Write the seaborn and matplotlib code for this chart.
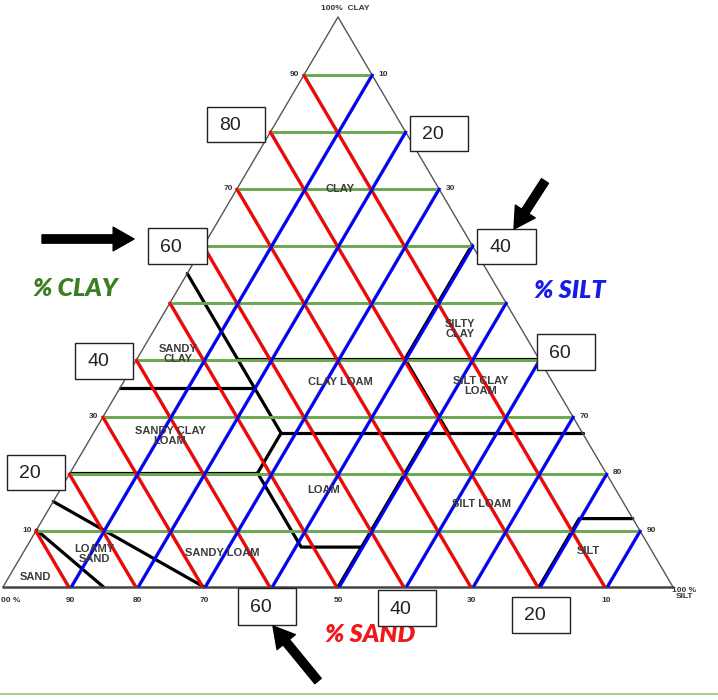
import numpy as np
import pandas as pd
import matplotlib
matplotlib.use("Agg")
import matplotlib.pyplot as plt
import matplotlib.transforms as mtransforms
from matplotlib.patches import Rectangle, FancyArrowPatch
import seaborn as sns

# ---------------- data ----------------
grid_levels = [10, 20, 30, 40, 50, 60, 70, 80, 90]

# USDA texture class boundaries, each a polyline of (sand, silt, clay) %
usda_boundaries = [
    [(85, 15, 0), (90, 0, 10)],
    [(70, 30, 0), (85, 0, 15)],
    [(80, 0, 20), (52, 28, 20)],
    [(52, 28, 20), (52, 41, 7), (43, 50, 7), (50, 50, 0)],
    [(52, 28, 20), (45, 28, 27)],
    [(65, 0, 35), (45, 20, 35)],
    [(45, 0, 55), (45, 28, 27)],
    [(45, 28, 27), (0, 73, 27)],
    [(45, 15, 40), (0, 60, 40)],
    [(20, 40, 40), (0, 40, 60)],
    [(20, 40, 40), (20, 53, 27)],
    [(23, 50, 27), (43, 50, 7)],
    [(20, 80, 0), (8, 80, 12), (0, 88, 12)],
]

clay_tick_values = [90, 70, 30, 10]          # left edge labels
silt_tick_values = [10, 30, 70, 80, 90]      # right edge labels
sand_tick_values = [90, 80, 70, 50, 30, 10]  # bottom labels

class_names = ["CLAY", "SILTY\nCLAY", "SANDY\nCLAY", "CLAY LOAM", "SILT CLAY\nLOAM",
               "SANDY CLAY\nLOAM", "LOAM", "SILT LOAM", "LOAMY\nSAND", "SANDY LOAM",
               "SILT", "SAND"]
class_pos = [(340, 189), (460, 329), (178, 354), (340, 382), (481, 386),
             (170, 436), (324, 490), (482, 504), (94, 554), (222, 553),
             (588, 551), (35, 577)]

box_values = ["80", "20", "60", "40", "40", "60", "20", "60", "40", "20"]
box_rects = [(207, 107, 58, 35), (410, 116, 58, 35), (148, 228, 59, 36),
             (477, 229, 59, 35), (75, 343, 58, 36), (537, 334, 58, 36),
             (7, 455, 58, 35), (238, 588, 58, 37), (378, 590, 58, 36),
             (512, 597, 58, 36)]

# ---------------- geometry ----------------
X0, SX, Y0, SY = 3.0, 6.7, 587.0, 5.7


def tern(sand, silt, clay):
    return X0 + (silt + clay / 2.0) * SX, Y0 - clay * SY


# ---------------- figure ----------------
sns.set_theme(style="white")
plt.rcParams["font.family"] = ["Liberation Sans", "DejaVu Sans"]

fig = plt.figure(figsize=(7.18, 7.00), dpi=100)
ax = fig.add_axes([0, 0, 1, 1])
ax.set_xlim(0, 718)
ax.set_ylim(700, 0)
ax.axis("off")

# grid table
rows = []
seg = 0
for v in grid_levels:
    for kind, a, b in [("clay", (100 - v, 0, v), (0, 100 - v, v)),
                       ("sand", (v, 100 - v, 0), (v, 0, 100 - v)),
                       ("silt", (100 - v, v, 0), (0, v, 100 - v))]:
        for p in (a, b):
            x, y = tern(*p)
            rows.append(dict(seg=seg, kind=kind, x=x, y=y))
        seg += 1
grid = pd.DataFrame(rows)

# underlying gray grid of the printed chart
sns.lineplot(data=grid[grid.kind != "clay"], x="x", y="y", units="seg", estimator=None,
             sort=False, color="#6b6b6b", lw=1.0, ax=ax, legend=False)

# black class boundaries
brows = []
for i, line in enumerate(usda_boundaries):
    for p in line:
        x, y = tern(*p)
        brows.append(dict(seg=i, x=x, y=y))
bdf = pd.DataFrame(brows)
sns.lineplot(data=bdf, x="x", y="y", units="seg", estimator=None, sort=False,
             color="black", lw=2.3, ax=ax, legend=False)

# triangle outline
outline = pd.DataFrame([dict(seg=0, x=tern(100, 0, 0)[0], y=tern(100, 0, 0)[1]),
                        dict(seg=0, x=tern(0, 0, 100)[0], y=tern(0, 0, 100)[1]),
                        dict(seg=0, x=tern(0, 100, 0)[0], y=tern(0, 100, 0)[1])])
sns.lineplot(data=outline, x="x", y="y", units="seg", estimator=None, sort=False,
             color="#555555", lw=1.0, ax=ax, legend=False)
bx = [tern(100, 0, 0), tern(0, 100, 0)]
sns.lineplot(x=[bx[0][0], bx[1][0]], y=[bx[0][1], bx[1][1]], color="#444444", lw=1.8,
             ax=ax, legend=False, sort=False)

# coloured overlay lines (hand-drawn, slightly offset)
colors = {"clay": "#6aa84f", "sand": "#ff0000", "silt": "#0000ff"}
offsets = {"clay": (0, -1.2), "sand": (-1.5, 0), "silt": (1.5, 0)}
for kind in ["clay", "sand", "silt"]:
    dx, dy = offsets[kind]
    tr = ax.transData + mtransforms.ScaledTranslation(dx / 100, dy / 100, fig.dpi_scale_trans)
    sub = grid[grid.kind == kind]
    for s, g in sub.groupby("seg"):
        ax.plot(g.x, g.y, color=colors[kind], lw=2.1, transform=tr, solid_capstyle="butt")

# ---------------- texts ----------------
tick_kw = dict(fontsize=6, fontweight="bold", color="#333333")
ax.text(345, 9, "100%  CLAY", ha="center", va="center", **tick_kw)
for c in clay_tick_values:
    x, y = tern(100 - c, 0, c)
    ax.text(x - 5, y, str(c), ha="right", va="center", **tick_kw)
for s in silt_tick_values:
    x, y = tern(0, s, 100 - s)
    ax.text(x + 7, y, str(s), ha="left", va="center", **tick_kw)
for s in sand_tick_values:
    x, y = tern(s, 100 - s, 0)
    ax.text(x, y + 13, str(s), ha="center", va="center", **tick_kw)
ax.text(1, 600, "00 %", ha="left", va="center", **tick_kw)
ax.text(684, 593, "100 %\nSILT", ha="center", va="center", linespacing=0.8, **tick_kw)

for name, (x, y) in zip(class_names, class_pos):
    ax.text(x, y, name, ha="center", va="center", fontsize=8, fontweight="bold",
            color="#3c3c3c", linespacing=0.95)

# number boxes
for val, (x0, y0, w, h) in zip(box_values, box_rects):
    ax.add_patch(Rectangle((x0, y0), w, h, facecolor="white", edgecolor="#222222",
                           lw=1.0, zorder=5))
    ax.text(x0 + 12, y0 + h / 2 + 1, val, ha="left", va="center", fontsize=14,
            color="#222222", zorder=6)

# hand-written axis names
hw = dict(fontsize=18, fontweight="heavy", style="italic", family=["Lato", "DejaVu Sans"])
ax.text(75, 288, "% CLAY", color="#3a7d22", ha="center", va="center", **hw)
ax.text(570, 290, "% SILT", color="#1a1ae6", ha="center", va="center", **hw)
ax.text(370, 634, "% SAND", color="#f01818", ha="center", va="center", **hw)

# arrows
arrow_style = "simple,head_length=15,head_width=17,tail_width=6"
for tail, tip in [((42, 239), (134, 239)), ((545, 181), (514, 229)), ((318, 681), (273, 626))]:
    ax.add_patch(FancyArrowPatch(tail, tip, arrowstyle=arrow_style, mutation_scale=1,
                                 color="black", shrinkA=0, shrinkB=0, zorder=7))

# bottom separator line
ax.plot([0, 718], [694, 694], color="#93c47d", lw=1.2)

fig.savefig("out.png", dpi=100)
